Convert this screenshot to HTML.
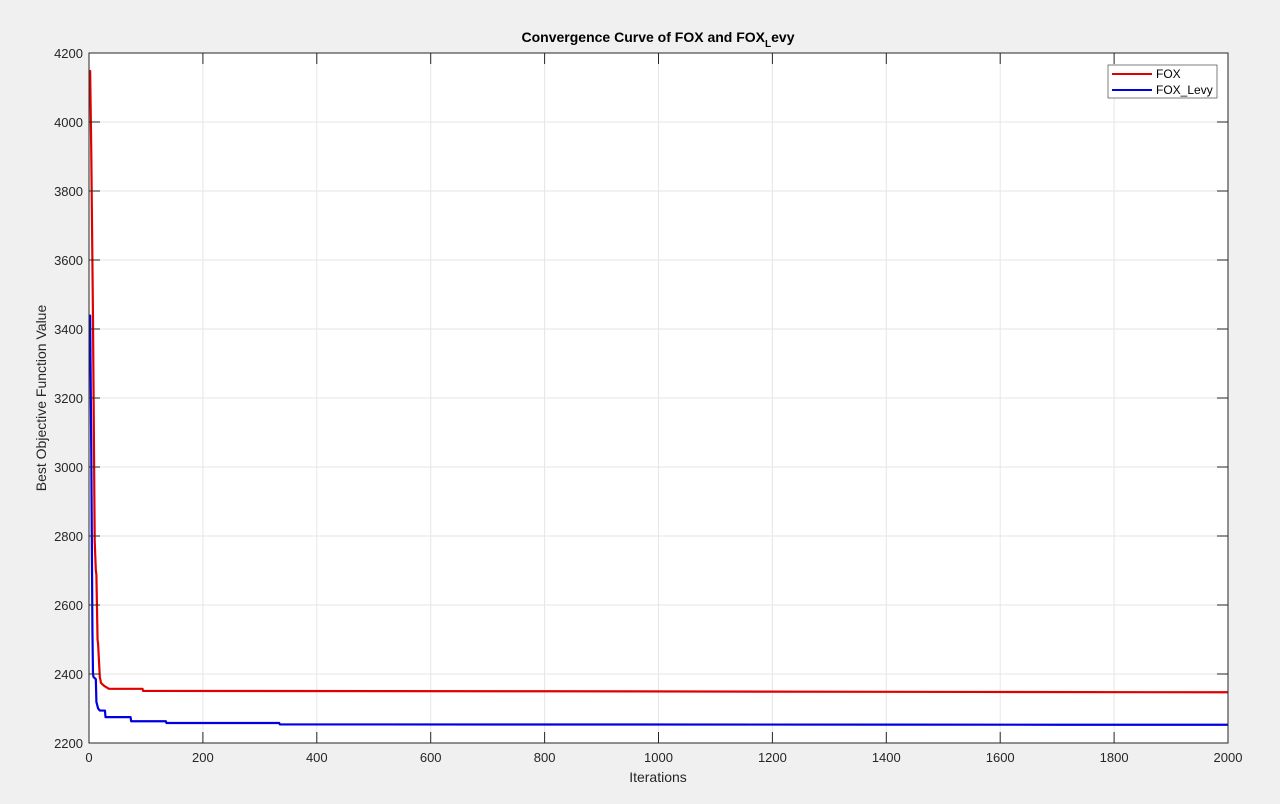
<!DOCTYPE html>
<html><head><meta charset="utf-8">
<style>
html,body{margin:0;padding:0;background:#f0f0f0;}
svg{display:block;font-family:"Liberation Sans",Arial,sans-serif;}
</style></head>
<body>
<svg id="chart" width="1280" height="804">
<rect x="0" y="0" width="1280" height="804" fill="#f0f0f0"/>
<rect x="89" y="53" width="1139" height="690" fill="#ffffff"/>
<g id="grid"></g>
<g id="series"></g>
<rect x="89" y="53" width="1139" height="690" fill="none" stroke="#262626" stroke-width="1"/>
<g id="ticks"></g>
<text x="658" y="42" text-anchor="middle" font-size="14" font-weight="bold" fill="#000">Convergence Curve of FOX and FOX<tspan font-size="10" dy="5">L</tspan><tspan dy="-5">evy</tspan></text>
<text x="658" y="782" text-anchor="middle" font-size="14" fill="#262626">Iterations</text>
<text x="46" y="398" text-anchor="middle" font-size="14" fill="#262626" transform="rotate(-90 46 398)">Best Objective Function Value</text>
<g>
<rect x="1108" y="65" width="109" height="33" fill="#fff" stroke="#262626" stroke-width="0.6"/>
<line x1="1112" y1="74" x2="1152" y2="74" stroke="#e00000" stroke-width="2"/>
<text x="1156" y="78" font-size="12" fill="#000">FOX</text>
<line x1="1112" y1="90" x2="1152" y2="90" stroke="#0000e0" stroke-width="2"/>
<text x="1156" y="94" font-size="12" fill="#000">FOX_Levy</text>
</g>
</svg>
<script>
const xTicks=[0,200,400,600,800,1000,1200,1400,1600,1800,2000];
const yTicks=[2200,2400,2600,2800,3000,3200,3400,3600,3800,4000,4200];
const foxIter=[1,2,4,7,10,12,13,15,16,19,20,21,27,35,94,95,800,1550,2000];
const foxVal=[4148,4148,3911,3432,2786,2700,2688,2500,2487,2390,2384,2374,2365,2357,2357,2351,2350,2348,2347];
const levyIter=[1,2,4,6,7,8,12,13,16,19,28,29,73,74,135,136,334,335,1700,2000];
const levyVal=[3439,3439,3043,2528,2400,2391,2385,2319,2300,2294,2294,2275,2275,2263,2263,2258,2258,2254,2253,2253];
const NS='http://www.w3.org/2000/svg';
const X0=89,X1=1228,Y0=743,Y1=53;
function sx(v){return X0+(v-0)/(2000-0)*(X1-X0);}
function sy(v){return Y0-(v-2200)/(4200-2200)*(Y0-Y1);}
function mk(t,a,p){const e=document.createElementNS(NS,t);for(const k in a)e.setAttribute(k,a[k]);p.appendChild(e);return e;}
const grid=document.getElementById('grid'),ticks=document.getElementById('ticks'),series=document.getElementById('series');
xTicks.forEach(v=>{const x=sx(v);
 const g=mk('line',{x1:x,x2:x,y1:Y1,y2:Y0,stroke:'#e6e6e6','stroke-width':1},grid);
 
 
 const t=mk('text',{x:x,y:Y0+19,'text-anchor':'middle','font-size':13,fill:'#262626'},ticks);
 t.textContent=v;
 
 
 mk('line',{x1:x,x2:x,y1:Y0,y2:Y0-11,stroke:'#262626'},ticks);
 mk('line',{x1:x,x2:x,y1:Y1,y2:Y1+11,stroke:'#262626'},ticks);
});
yTicks.forEach(v=>{const y=sy(v);
 const g=mk('line',{x1:X0,x2:X1,y1:y,y2:y,stroke:'#e6e6e6','stroke-width':1},grid);
 
 
 const t=mk('text',{x:X0-6,y:y+5,'text-anchor':'end','font-size':13,fill:'#262626'},ticks);
 t.textContent=v;
 
 
 mk('line',{x1:X0,x2:X0+11,y1:y,y2:y,stroke:'#262626'},ticks);
 mk('line',{x1:X1,x2:X1-11,y1:y,y2:y,stroke:'#262626'},ticks);
});
function line(it,vals,color,name){
 let d='M'+sx(it[0])+','+sy(vals[0]);
 for(let i=1;i<it.length;i++){d+=' L'+sx(it[i])+','+sy(vals[i]);}
 const p=mk('path',{d:d,fill:'none',stroke:color,'stroke-width':2.2,'stroke-linejoin':'round'},series);
 
 
}
line(foxIter,foxVal,'#e00000','fox-line');
line(levyIter,levyVal,'#0000e0','fox-levy-line');
</script>
</body></html>
